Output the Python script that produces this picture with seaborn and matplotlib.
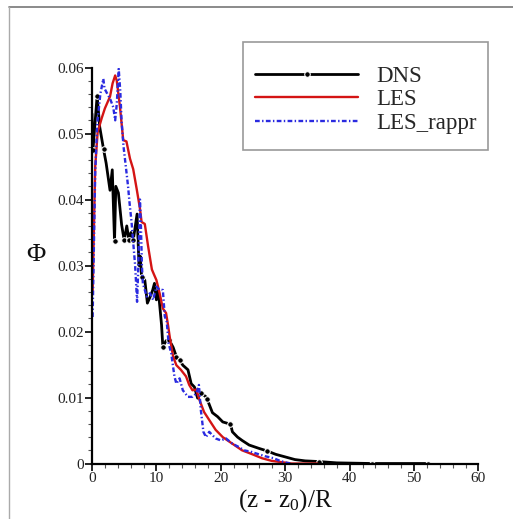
import matplotlib
matplotlib.use("Agg")
import matplotlib.pyplot as plt
from matplotlib.lines import Line2D
from matplotlib.patches import Rectangle
import numpy as np
import pandas as pd
import seaborn as sns

# ---------------- data ----------------
dns_x = [0.0, 0.15, 0.8, 1.2, 1.8, 2.2, 2.8, 3.15, 3.5, 3.7, 4.1, 4.35, 4.6, 5.0, 5.4,
         5.75, 6.05, 6.4, 7.0, 7.3, 7.5, 7.7, 8.2, 8.6, 9.0, 9.4, 9.7, 10.0, 10.3, 10.8,
         11.0, 11.5, 12.0, 12.6, 13.1, 13.6, 14.1, 14.9, 15.4, 15.9, 16.4, 16.9, 17.7,
         17.9, 18.7, 19.5, 20.3, 21.0, 21.5, 21.8, 22.6, 23.3, 24.4, 25.9, 27.2, 28.5,
         30.0, 31.5, 33.1, 35.2, 38.0, 43.5, 52.2]
dns_y = [0.0530, 0.0475, 0.0557, 0.0510, 0.0476, 0.0455, 0.0414, 0.0445, 0.0337, 0.0420,
         0.0410, 0.0386, 0.0362, 0.0338, 0.0360, 0.0338, 0.0350, 0.0338, 0.0378, 0.0300,
         0.0314, 0.0283, 0.0278, 0.0243, 0.0252, 0.0262, 0.0273, 0.0248, 0.0262, 0.0210,
         0.0177, 0.0186, 0.0187, 0.0176, 0.0162, 0.0157, 0.0149, 0.0142, 0.0121, 0.0116,
         0.0099, 0.0107, 0.0101, 0.0097, 0.0077, 0.0071, 0.0063, 0.0061, 0.0060, 0.0048,
         0.0040, 0.0035, 0.0028, 0.0023, 0.0019, 0.0014, 0.0010, 0.0006, 0.0004, 0.0003,
         0.0001, 0.0000, 0.0000]
dns_marker_idx = [1, 2, 4, 8, 13, 15, 17, 21, 30, 32, 34, 35, 41, 43, 48, 54, 59, 61, 62]

les_x = [0.1, 0.5, 0.88, 1.5, 2.0, 2.8, 3.2, 3.6, 3.85, 4.35, 4.85, 5.35, 5.9, 6.4, 6.94,
         7.45, 7.7, 8.2, 8.7, 9.3, 9.6, 10.0, 10.5, 11.0, 11.5, 11.8, 12.1, 12.6, 13.1,
         13.8, 14.6, 15.1, 15.6, 16.2, 16.7, 17.4, 18.2, 19.2, 20.3, 21.8, 23.3, 24.9,
         26.4, 27.9, 29.5, 31.0, 35.0]
les_y = [0.0260, 0.0450, 0.0502, 0.0523, 0.0538, 0.0556, 0.0576, 0.0588, 0.0580, 0.0540,
         0.0490, 0.0488, 0.0462, 0.0446, 0.0416, 0.0386, 0.0366, 0.0363, 0.0330, 0.0294,
         0.0287, 0.0278, 0.0258, 0.0235, 0.0228, 0.0210, 0.0190, 0.0162, 0.0149, 0.0142,
         0.0132, 0.0119, 0.0111, 0.0112, 0.0096, 0.0078, 0.0066, 0.0051, 0.0040, 0.0030,
         0.0020, 0.0014, 0.0008, 0.0004, 0.0002, 0.0000, 0.0000]

rap_x = [0.1, 0.5, 0.8, 1.3, 1.76, 1.95, 2.5, 2.8, 3.3, 3.6, 3.85, 4.15, 4.4, 4.6, 4.9,
         5.3, 5.6, 5.8, 6.15, 6.4, 6.7, 7.0, 7.2, 7.45, 7.6, 7.75, 7.9, 8.5, 9.0, 9.5,
         10.0, 10.5, 11.0, 11.3, 11.6, 11.9, 12.3, 12.8, 13.1, 13.6, 14.1, 14.9, 15.6,
         16.2, 16.6, 16.9, 17.3, 17.7, 18.2, 18.7, 19.2, 20.0, 20.8, 21.8, 22.8, 23.6,
         24.6, 25.9, 26.9, 28.2, 29.2, 30.3, 31.0]
rap_y = [0.0222, 0.0440, 0.0513, 0.0560, 0.0583, 0.0568, 0.0558, 0.0553, 0.0540, 0.0520,
         0.0545, 0.0598, 0.0563, 0.0518, 0.0480, 0.0446, 0.0420, 0.0398, 0.0365, 0.0335,
         0.0300, 0.0245, 0.0300, 0.0400, 0.0360, 0.0300, 0.0273, 0.0253, 0.0258, 0.0248,
         0.0268, 0.0263, 0.0263, 0.0223, 0.0215, 0.0182, 0.0167, 0.0132, 0.0121, 0.0129,
         0.0111, 0.0101, 0.0101, 0.0106, 0.0119, 0.0081, 0.0048, 0.0040, 0.0048, 0.0043,
         0.0038, 0.0035, 0.0038, 0.0030, 0.0025, 0.0020, 0.0018, 0.0014, 0.0011, 0.0008,
         0.0004, 0.0001, 0.0000]

series_labels = ["DNS", "LES", "LES_rappr"]
x_ticks = [0, 10, 20, 30, 40, 50, 60]
x_tick_labels = ["0", "10", "20", "30", "40", "50", "60"]
y_ticks = [0.0, 0.01, 0.02, 0.03, 0.04, 0.05, 0.06]
y_tick_labels = ["0", "0.01", "0.02", "0.03", "0.04", "0.05", "0.06"]
x_label = r"(z - z$_{\rm 0}$)/R"
y_label = "\u03a6"

# ---------------- style ----------------
sns.set_theme(style="white")
plt.rcParams["font.family"] = ["Liberation Serif", "DejaVu Serif"]
plt.rcParams["mathtext.fontset"] = "custom"
plt.rcParams["mathtext.rm"] = "Liberation Serif"
plt.rcParams["mathtext.it"] = "Liberation Serif:italic"

W, H = 513, 519
fig = plt.figure(figsize=(W / 100, H / 100), dpi=100)
ax = fig.add_axes([0.1793, 0.1069, 0.7534, 0.763])

df_dns = pd.DataFrame({"x": dns_x, "y": dns_y})
df_les = pd.DataFrame({"x": les_x, "y": les_y})
df_rap = pd.DataFrame({"x": rap_x, "y": rap_y})

sns.lineplot(data=df_dns, x="x", y="y", ax=ax, sort=False, estimator=None,
             color="black", lw=2.0, marker="o", markersize=4, markevery=dns_marker_idx,
             label=series_labels[0])
sns.lineplot(data=df_les, x="x", y="y", ax=ax, sort=False, estimator=None,
             color="#d41414", lw=1.7, label=series_labels[1])
sns.lineplot(data=df_rap, x="x", y="y", ax=ax, sort=False, estimator=None,
             color="#2a2ae0", lw=1.7, linestyle=(0, (2.0, 1.0, 0.6, 1.0)),
             label=series_labels[2])

ax.set_xlim(0, 60)
ax.set_ylim(0, 0.06)
ax.set_xticks(x_ticks)
ax.set_xticklabels(x_tick_labels)
ax.set_yticks(y_ticks)
ax.set_yticklabels(y_tick_labels)
ax.set_xticks(np.arange(0, 61, 2), minor=True)
ax.set_yticks(np.arange(0, 0.0601, 0.002), minor=True)
ax.tick_params(axis="both", which="major", direction="out", length=5, width=1.2,
               color="black", labelsize=11, pad=1, labelcolor="#222222")
ax.tick_params(axis="both", which="minor", direction="out", length=3, width=0.8,
               color="#555555")
ax.tick_params(axis="x", which="both", bottom=True)
ax.tick_params(axis="y", which="both", left=True)

for s in ["top", "right"]:
    ax.spines[s].set_visible(False)
for s in ["left", "bottom"]:
    ax.spines[s].set_color("black")
    ax.spines[s].set_linewidth(1.6)

ax.set_xlabel(x_label, fontsize=18, labelpad=2, color="#111111")
ax.set_ylabel(y_label, fontsize=19, rotation=0, labelpad=12, color="#111111")
ax.yaxis.set_label_coords(-0.145, 0.5)

# legend (content) without its own frame; frame drawn as a rectangle
leg = ax.legend(loc="upper left", bbox_to_anchor=(255 / W, 1 - 66 / H),
                bbox_transform=fig.transFigure, fontsize=16.5, frameon=False,
                handlelength=4.5, handletextpad=0.8, labelspacing=0.1,
                borderpad=0, borderaxespad=0)
fig.add_artist(Rectangle((243 / W, 1 - 150 / H), (488 - 243) / W, (150 - 42) / H,
                         transform=fig.transFigure, fill=False,
                         edgecolor="#999999", lw=1.2))

# outer picture frame (top and left edges)
fig.add_artist(Line2D([9 / W, 1.0], [1 - 7 / H, 1 - 7 / H],
                      transform=fig.transFigure, color="#777777", lw=1.2))
fig.add_artist(Line2D([9 / W, 9 / W], [0, 1 - 7 / H],
                      transform=fig.transFigure, color="#aaaaaa", lw=1.0))

fig.savefig("out.png", dpi=100)
